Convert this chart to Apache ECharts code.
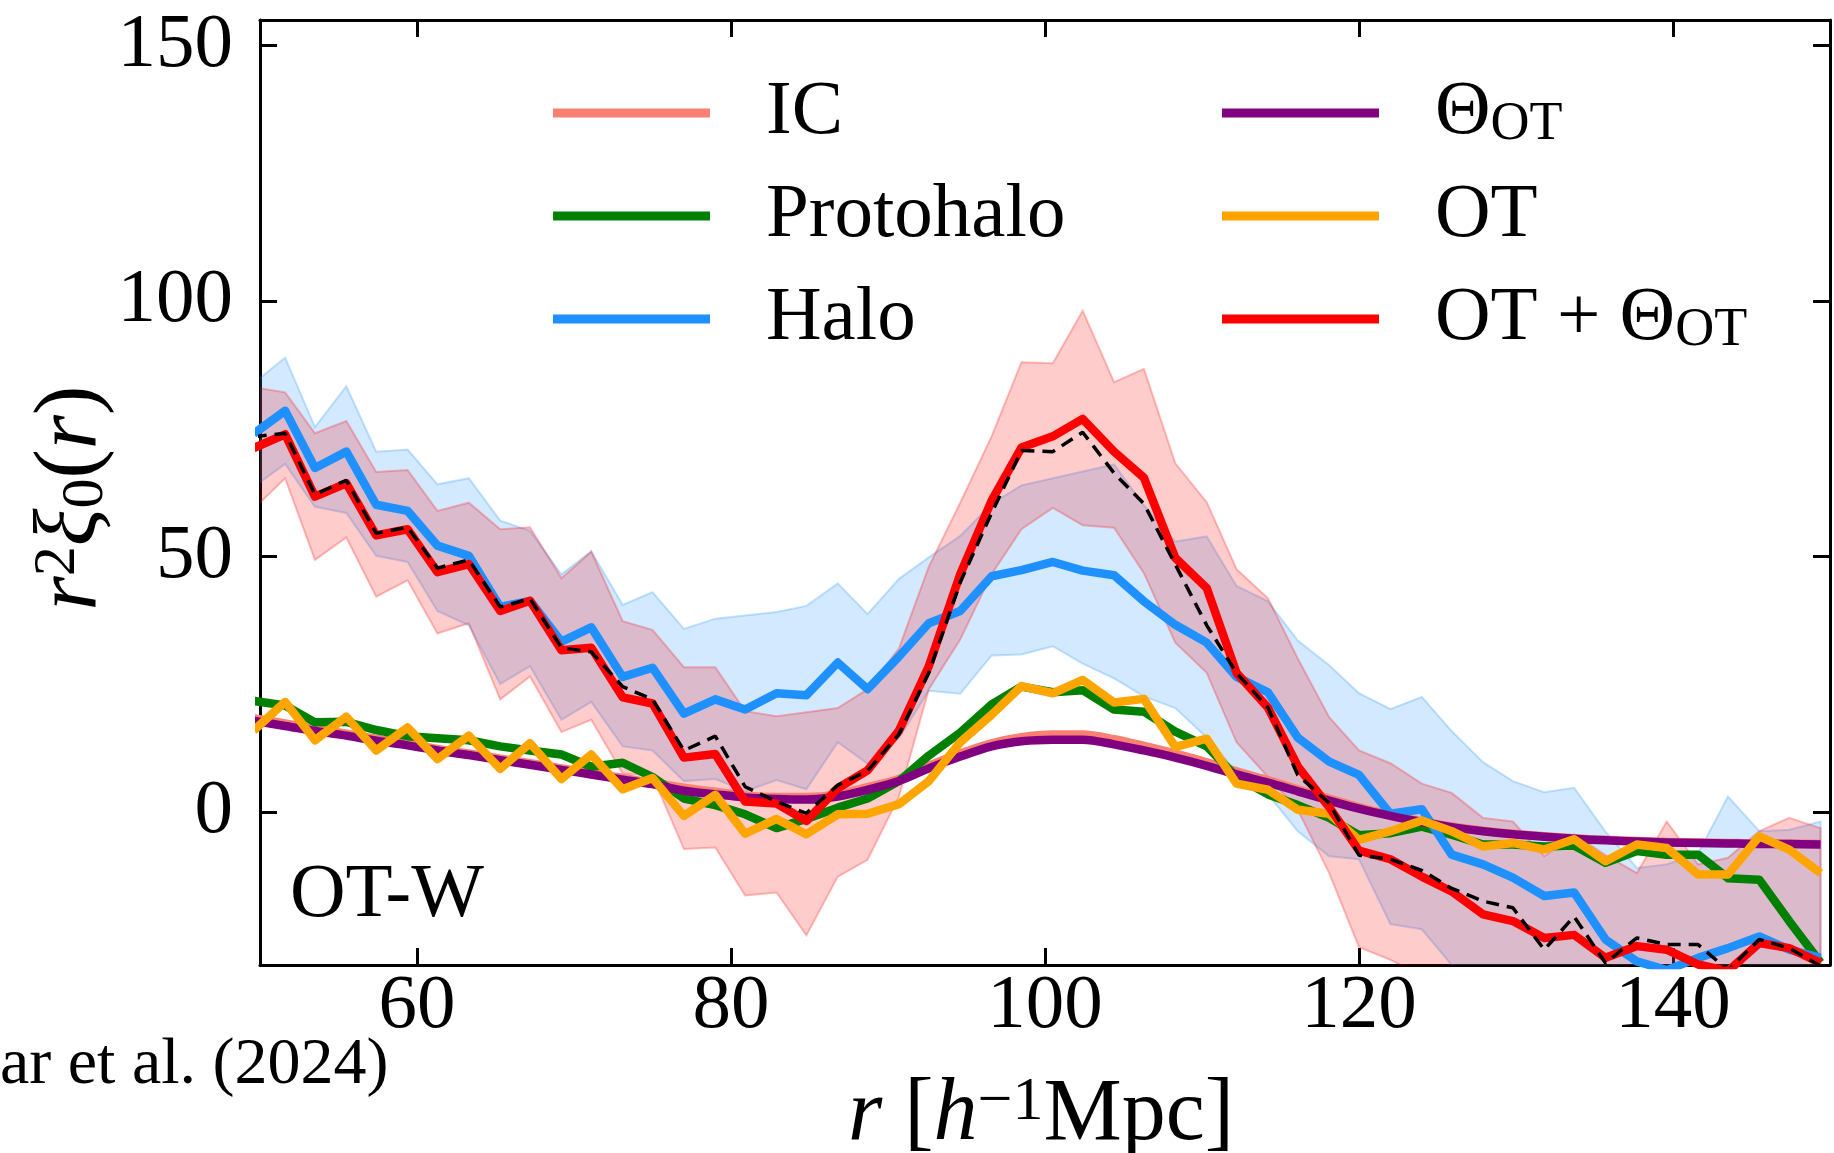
<!DOCTYPE html>
<html>
<head>
<meta charset="utf-8">
<title>OT-W r^2 xi_0(r)</title>
<script src="https://cdn.jsdelivr.net/npm/echarts@6.0.0/dist/echarts.min.js"></script>
<style>
  html, body { margin: 0; padding: 0; background: #fff; }
  #chart { width: 1834px; height: 1153px; }
</style>
</head>
<body>
<div id="chart"></div>
<script>
// bin centres r [h^-1 Mpc] (first one sits just left of the axis and gets clipped)
const r = [49.6, 51.6, 53.5, 55.5, 57.4, 59.4, 61.3, 63.3, 65.3, 67.2, 69.2, 71.1, 73.1, 75.0, 77.0, 79.0, 80.9, 82.9, 84.8, 86.8,
  88.7, 90.7, 92.6, 94.6, 96.6, 98.5, 100.5, 102.4, 104.4, 106.3, 108.3, 110.3, 112.2, 114.2, 116.1, 118.1, 120.0, 122.0, 124.0, 125.9,
  127.9, 129.8, 131.8, 133.7, 135.7, 137.7, 139.6, 141.6, 143.5, 145.5, 147.4, 149.4]

// r^2 xi_0(r) for each curve
const icVals = [18.3, 17.3, 16.2, 15.3, 14.3, 13.3, 12.3, 11.4, 10.4, 9.5, 8.5, 7.6, 6.6, 5.7, 4.7, 3.9, 3.2, 2.9, 2.9, 3.4,
  4.8, 6.4, 9.0, 11.4, 13.4, 14.6, 15.1, 15.1, 14.2, 12.9, 11.4, 9.7, 7.9, 6.2, 4.4, 2.6, 0.9, -0.6, -1.9, -2.9,
  -3.7, -4.3, -4.8, -5.2, -5.5, -5.7, -5.9, -6.0, -6.1, -6.2, -6.2, -6.3]
const protohaloVals = [21.7, 20.8, 17.5, 17.6, 16.0, 14.8, 14.4, 14.0, 12.8, 12.0, 11.2, 8.8, 9.6, 6.8, 2.6, 1.3, -0.5, -3.2, -1.4, 0.8,
  2.6, 6.0, 11.0, 15.5, 21.0, 24.5, 23.4, 23.8, 20.0, 19.6, 15.7, 12.8, 6.8, 3.4, 1.3, -1.2, -4.6, -4.2, -2.9, -4.5,
  -6.4, -6.4, -6.8, -6.6, -10.0, -7.7, -8.4, -8.4, -13.0, -13.3, -21.4, -29.5]
const haloVals = [74.0, 78.5, 67.3, 70.5, 60.1, 58.9, 52.1, 50.1, 40.1, 41.3, 33.3, 36.1, 26.4, 28.2, 19.2, 22.0, 20.0, 23.2, 22.8, 29.2,
  24.0, 30.4, 36.9, 39.3, 46.1, 47.3, 48.9, 47.2, 46.3, 41.2, 36.6, 33.1, 26.4, 23.4, 14.5, 9.8, 7.2, -0.4, 0.5, -8.4,
  -10.3, -12.9, -16.5, -15.8, -25.0, -29.3, -31.0, -28.6, -26.7, -24.4, -27.0, -28.6]
const thetaVals = [17.8, 16.8, 15.8, 14.9, 13.9, 13.0, 12.0, 11.1, 10.1, 9.2, 8.2, 7.3, 6.3, 5.4, 4.1, 3.4, 2.8, 2.5, 2.4, 3.0,
  4.3, 6.0, 8.5, 10.8, 12.8, 13.8, 14.1, 14.1, 13.2, 12.0, 10.6, 9.0, 7.3, 5.7, 4.0, 2.2, 0.6, -0.8, -2.0, -3.0,
  -3.8, -4.4, -4.9, -5.3, -5.6, -5.8, -6.0, -6.1, -6.2, -6.3, -6.3, -6.4]
const otVals = [15.9, 21.5, 14.0, 18.6, 12.0, 16.5, 10.3, 14.9, 8.4, 13.4, 6.4, 11.2, 4.4, 6.6, -0.8, 3.3, -4.3, -1.4, -4.4, -0.5,
  -0.4, 1.5, 6.0, 13.6, 19.0, 24.6, 23.2, 25.8, 21.4, 22.1, 12.7, 14.3, 5.5, 4.3, 0.4, -0.4, -5.5, -3.8, -1.7, -3.8,
  -6.8, -6.1, -7.4, -5.4, -9.7, -6.4, -7.1, -12.3, -12.3, -4.8, -7.4, -12.0]
const otThetaVals = [71.2, 73.9, 61.7, 64.3, 54.1, 55.3, 46.9, 48.5, 39.3, 41.3, 31.6, 32.1, 22.4, 21.2, 10.6, 11.3, 2.0, 1.6, -1.8, 4.6,
  8.1, 15.9, 28.5, 46.5, 60.9, 71.3, 73.5, 76.9, 70.5, 65.4, 49.7, 43.8, 27.2, 20.4, 8.9, 0.9, -7.6, -9.3, -12.7, -15.6,
  -20.1, -21.4, -24.7, -24.1, -28.6, -26.3, -27.0, -29.9, -31.2, -25.7, -26.7, -29.6]
const dashedVals = [73.4, 74.1, 62.1, 64.9, 54.5, 55.7, 47.7, 49.3, 40.1, 41.7, 32.1, 31.3, 24.5, 22.0, 12.0, 14.8, 4.9, 2.0, -0.3, 5.2,
  8.0, 15.2, 27.2, 44.9, 58.5, 70.7, 70.5, 74.3, 66.3, 60.3, 48.4, 36.5, 27.2, 20.4, 7.2, 1.7, -8.5, -9.3, -11.5, -15.0,
  -17.5, -18.8, -27.0, -20.5, -29.6, -24.7, -26.0, -26.0, -31.0, -25.0, -26.7, -30.2]

// shaded bands (lower / upper edge)
const haloLo = [63.6, 68.1, 59.7, 58.5, 50.1, 48.9, 39.3, 36.5, 25.0, 28.5, 18.0, 21.5, 12.8, 12.0, 6.0, 6.4, 4.0, 6.2, 4.4, 13.6,
  9.4, 14.4, 23.7, 23.1, 30.6, 30.8, 32.4, 29.0, 26.1, 22.6, 20.3, 14.5, 7.7, 3.4, -3.8, -8.7, -9.3, -22.0, -23.0, -30.0,
  -32.0, -34.0, -35.0, -36.0, -38.0, -40.0, -42.0, -42.0, -42.0, -42.0, -42.0, -42.0]
const haloHi = [83.9, 88.9, 75.3, 83.3, 70.5, 70.9, 64.1, 65.3, 57.0, 55.0, 46.5, 51.0, 40.5, 43.0, 35.8, 37.8, 38.4, 39.1, 40.3, 44.7,
  38.7, 45.6, 49.8, 54.0, 60.3, 63.9, 65.3, 66.6, 68.0, 60.0, 52.9, 53.9, 44.2, 41.2, 33.5, 28.7, 23.2, 20.1, 22.5, 15.8,
  9.7, 6.0, 3.8, 4.7, -3.9, -11.0, -10.3, -8.1, 3.0, -3.8, -3.5, -1.9]
const otLo = [59.3, 65.3, 49.3, 53.7, 42.1, 45.3, 34.9, 36.9, 22.0, 26.5, 15.6, 18.0, 7.5, 7.0, -7.3, -7.0, -16.4, -15.8, -24.2, -12.7,
  -9.4, 3.0, 24.0, 33.7, 46.5, 55.3, 59.5, 56.1, 55.6, 46.7, 33.1, 27.2, 13.6, 6.8, 0.4, -12.0, -26.5, -29.0, -32.0, -36.0,
  -38.0, -40.0, -42.0, -42.0, -44.0, -44.0, -45.0, -45.0, -45.0, -45.0, -45.0, -45.0]
const otHi = [83.1, 82.1, 74.1, 76.5, 66.5, 66.9, 58.9, 60.5, 55.3, 55.7, 45.7, 50.9, 37.3, 35.6, 28.3, 28.3, 19.7, 18.7, 19.5, 20.3,
  24.0, 32.0, 48.0, 60.5, 73.5, 88.0, 87.8, 98.1, 84.1, 86.7, 68.2, 60.6, 47.5, 41.8, 30.0, 18.5, 12.0, 9.5, 5.5, 3.7,
  -1.2, -1.9, -8.7, -4.4, -8.5, -12.0, -1.9, -10.3, -9.0, -3.8, -1.2, -3.2]

const xTicks = [60, 80, 100, 120, 140]
const yTicks = [0, 50, 100, 150]

const FONT = 'Liberation Serif'

function xy(vals) {
  let out = []
  for (let i = 0; i < r.length; i++) out.push([r[i], vals[i]])
  return out
}

// fill_between-like band: one polygon, upper edge forward then lower edge back
function band(lo, hi, rgb) {
  return {
    type: 'custom', silent: true, clip: true,
    data: [[r[0], lo[0]]],
    renderItem: function (params, api) {
      let pts = []
      for (let i = 0; i < r.length; i++) pts.push(api.coord([r[i], hi[i]]))
      for (let i = r.length - 1; i >= 0; i--) pts.push(api.coord([r[i], lo[i]]))
      let cs = params.coordSys
      return {
        type: 'group',
        clipPath: { type: 'rect', shape: { x: cs.x, y: cs.y, width: cs.width, height: cs.height } },
        children: [{
          type: 'polygon',
          shape: { points: pts },
          style: { fill: 'rgba(' + rgb + ',0.2)', stroke: 'rgba(' + rgb + ',0.25)', lineWidth: 2 }
        }]
      }
    }
  }
}

function curve(name, vals, color, extra) {
  let s = { name: name, type: 'line', data: xy(vals), symbol: 'none',
    itemStyle: { color: color },
    lineStyle: { color: color, width: 8.5, join: 'round' } }
  return Object.assign(s, extra || {})
}

var series = [
  band(haloLo, haloHi, '30,144,255'),
  band(otLo, otHi, '255,0,0'),
  curve('IC', icVals, 'salmon', { smooth: 0.3 }),
  curve('Protohalo', protohaloVals, 'green'),
  curve('Halo', haloVals, 'dodgerblue'),
  curve('Θ_OT', thetaVals, 'purple', { smooth: 0.3 }),
  curve('OT', otVals, 'orange'),
  curve('OT + Θ_OT', otThetaVals, 'red'),
  { name: 'dashed', type: 'line', data: xy(dashedVals), symbol: 'none', silent: true,
    lineStyle: { color: '#000', width: 3.5, type: [13, 8] } }
]

var legendText = {
  fontFamily: FONT, fontSize: 77, color: '#000', lineHeight: 77, padding: [0, 0, 0, 51],
  rich: { s: { fontFamily: FONT, fontSize: 54, lineHeight: 38, verticalAlign: 'bottom', color: '#000' } }
}
function legendAt(name, left, mid) {
  return {
    data: [name], left: left, top: mid - 38.5, orient: 'vertical', padding: 0,
    itemWidth: 157, itemHeight: 9, icon: 'rect', selectedMode: false,
    textStyle: legendText,
    formatter: function (n) { return n.replace('Θ_OT', 'Θ{s|OT}') }
  }
}

var axisLine = { show: true, onZero: false, lineStyle: { color: '#000', width: 3 } }
var tick = { show: true, inside: true, length: 17, lineStyle: { color: '#000', width: 3 } }
var tickLabel = { fontFamily: FONT, fontSize: 77, color: '#000' }

var myChart = echarts.init(document.getElementById('chart'))
var option = {
  animation: false,
  backgroundColor: '#fff',
  grid: { left: 260, right: 4, top: 20, bottom: 188 },
  xAxis: [
    { type: 'value', min: 50, max: 150, position: 'bottom',
      axisLine: axisLine, splitLine: { show: false },
      axisTick: Object.assign({ customValues: xTicks }, tick),
      axisLabel: Object.assign({ customValues: xTicks, margin: 3 }, tickLabel) },
    { type: 'value', min: 50, max: 150, position: 'top',
      axisLine: axisLine, splitLine: { show: false },
      axisTick: Object.assign({ customValues: xTicks }, tick),
      axisLabel: { show: false } }
  ],
  yAxis: [
    { type: 'value', min: -30, max: 155, position: 'left',
      axisLine: axisLine, splitLine: { show: false },
      axisTick: Object.assign({ customValues: yTicks }, tick),
      axisLabel: Object.assign({ customValues: yTicks, margin: 27 }, tickLabel) },
    { type: 'value', min: -30, max: 155, position: 'right',
      axisLine: axisLine, splitLine: { show: false },
      axisTick: Object.assign({ customValues: yTicks }, tick),
      axisLabel: { show: false } }
  ],
  legend: [
    legendAt('IC', 553, 113),
    legendAt('Protohalo', 553, 216),
    legendAt('Halo', 553, 319),
    legendAt('Θ_OT', 1222, 113),
    legendAt('OT', 1222, 216),
    legendAt('OT + Θ_OT', 1222, 319)
  ],
  graphic: [
    { type: 'text', x: 290, y: 896, silent: true,
      style: { text: 'OT-W', fontFamily: FONT, fontSize: 77, fill: '#000', align: 'left', verticalAlign: 'middle' } },
    { type: 'text', x: 1041, y: 1116, silent: true,
      style: { text: '{i|r} [{i|h}{sup|−1}Mpc]', fontFamily: FONT, fontSize: 88, lineHeight: 88, fill: '#000',
        align: 'center', verticalAlign: 'middle',
        rich: { i: { fontFamily: FONT, fontSize: 88, fontStyle: 'italic', lineHeight: 88 },
          sup: { fontFamily: FONT, fontSize: 62, lineHeight: 44, verticalAlign: 'top' } } } },
    { type: 'text', x: 72, y: 498, rotation: Math.PI / 2, silent: true,
      style: { text: '{i|r}{sup|2}{i|ξ}{sub|0}({i|r})', fontFamily: FONT, fontSize: 88, lineHeight: 88, fill: '#000',
        align: 'center', verticalAlign: 'middle',
        rich: { i: { fontFamily: FONT, fontSize: 88, fontStyle: 'italic', lineHeight: 88 },
          sup: { fontFamily: FONT, fontSize: 60, lineHeight: 50, verticalAlign: 'top' },
          sub: { fontFamily: FONT, fontSize: 60, lineHeight: 50, verticalAlign: 'bottom' } } } },
    { type: 'text', x: 0, y: 1066, silent: true,
      style: { text: 'ar et al. (2024)', fontFamily: FONT, fontSize: 66, fill: '#000', align: 'left', verticalAlign: 'middle' } }
  ],
  series: series
}
myChart.setOption(option)
</script>
</body>
</html>
